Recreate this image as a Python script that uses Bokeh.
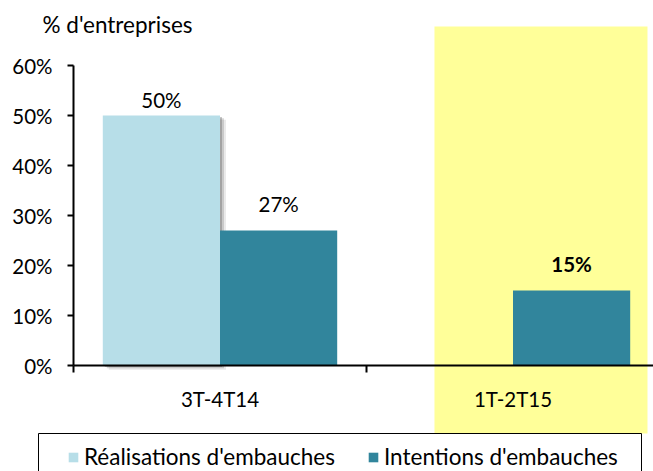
import numpy as np
from bokeh.plotting import figure
from bokeh.models import Range1d, FixedTicker, PrintfTickFormatter, Label, Legend, LegendItem, ColumnDataSource
from bokeh.core.properties import value
from bokeh.embed import file_html
from bokeh.resources import INLINE

# ---- data ----
categories = ["3T-4T14", "1T-2T15"]
realisations = [50, np.nan]
intentions = [27, 15]
highlight = "1T-2T15"
y_ticks = [0, 10, 20, 30, 40, 50, 60]
y_title = "% d'entreprises"
series_names = ["Réalisations d'embauches", "Intentions d'embauches"]

# ---- style / geometry ----
FONT = "Lato"
FS_NUM = "20.5px"
FS_TXT = "22.5px"
C_LIGHT = "#B7DEE8"
C_DARK = "#31859C"
C_YELLOW = "#FFFF99"
W, H = 653, 471
PX_CAT = 293.0      # pixels per category
PX_PCT = 5.0        # pixels per percentage point
AX_X = 73           # canvas x of the y axis
AX_Y = 365          # canvas y (from top) of 0 %

x_range = Range1d(-AX_X / PX_CAT, (W - AX_X) / PX_CAT)
y_range = Range1d(-(H - AX_Y) / PX_PCT, AX_Y / PX_PCT)

p = figure(width=W, height=H, x_range=x_range, y_range=y_range,
           output_backend="svg", toolbar_location=None, min_border=0,
           min_border_left=0, min_border_right=0, min_border_top=0, min_border_bottom=0)
p.outline_line_color = None
p.grid.visible = False
p.background_fill_color = "white"
p.border_fill_color = "white"

n = len(categories)
xc = np.arange(n) + 0.5
bw = 0.4
x_real = xc - bw / 2
x_int = xc + bw / 2

# highlighted period band
hi = categories.index(highlight)
p.quad(left=[xc[hi] - 0.268], right=[xc[hi] + 0.459], top=[(AX_Y - 26) / PX_PCT],
       bottom=[-(433 - AX_Y) / PX_PCT], fill_color=C_YELLOW, line_color=None)

# soft shadow behind the first series
real = np.array(realisations, dtype=float)
for d, a in [(2, 0.32), (4, 0.22), (6, 0.12)]:
    p.quad(left=x_real - bw / 2 + d / PX_CAT, right=x_real + bw / 2 + d / PX_CAT,
           top=real - d * 0.7 / PX_PCT, bottom=np.zeros(n) - d * 0.7 / PX_PCT,
           fill_color="#555555", fill_alpha=a, line_color=None)

r_real = p.vbar(x=x_real, top=real, width=bw, fill_color=C_LIGHT, line_color=None)
r_int = p.vbar(x=x_int, top=intentions, width=bw, fill_color=C_DARK, line_color=None)

# value labels
lab_x, lab_y, lab_t, lab_s, lab_o = [], [], [], [], []
for i, c in enumerate(categories):
    for xs, v, off in [(x_real[i], realisations[i], -4), (x_int[i], intentions[i], -15)]:
        if v is None or (isinstance(v, float) and np.isnan(v)):
            continue
        lab_x.append(xs); lab_y.append(v); lab_t.append(f"{v:.0f}%")
        lab_s.append("bold" if c == highlight else "normal")
        lab_o.append(off)
src = ColumnDataSource(dict(x=lab_x, y=lab_y, t=lab_t, s=lab_s, o=lab_o))
p.text(x="x", y="y", text="t", source=src, text_align="center", text_baseline="bottom",
       y_offset="o", text_font=value(FONT), text_font_size=FS_NUM, text_color="black",
       text_font_style="s")

# legend frame
p.quad(left=[(38 - AX_X) / PX_CAT], right=[(641 - AX_X) / PX_CAT],
       top=[-(433 - AX_Y) / PX_PCT], bottom=[-(480 - AX_Y) / PX_PCT],
       fill_color="white", line_color="black", line_width=1)

# axes
xa = p.xaxis[0]
xa.fixed_location = 0
xa.bounds = (0, n)
xa.ticker = FixedTicker(ticks=list(xc), minor_ticks=list(range(n + 1)))
xa.major_label_overrides = {float(x): c for x, c in zip(xc, categories)}
xa.major_tick_line_color = None
xa.major_tick_out = 0
xa.major_tick_in = 0
xa.minor_tick_out = 7
xa.minor_tick_in = 0
xa.minor_tick_line_color = "black"
xa.minor_tick_line_width = 2
xa.axis_line_color = "black"
xa.axis_line_width = 2
xa.major_label_standoff = 14
xa.major_label_text_font = FONT
xa.major_label_text_font_size = FS_NUM
xa.major_label_text_color = "black"

ya = p.yaxis[0]
ya.fixed_location = 0
ya.bounds = (y_ticks[0], y_ticks[-1])
ya.ticker = FixedTicker(ticks=y_ticks, minor_ticks=[])
ya.formatter = PrintfTickFormatter(format="%d%%")
ya.major_tick_out = 6
ya.major_tick_in = 0
ya.major_tick_line_width = 2
ya.major_tick_line_color = "black"
ya.minor_tick_line_color = None
ya.axis_line_color = "black"
ya.axis_line_width = 2
ya.major_label_standoff = 15
ya.major_label_text_font = FONT
ya.major_label_text_font_size = FS_NUM
ya.major_label_text_color = "black"

p.add_layout(Label(x=(42 - AX_X) / PX_CAT, y=(AX_Y - 24) / PX_PCT, text=y_title,
                   text_font=FONT, text_font_size=FS_TXT, text_color="black",
                   text_baseline="middle", text_align="left"))

legend = Legend(items=[LegendItem(label=series_names[0], renderers=[r_real]),
                       LegendItem(label=series_names[1], renderers=[r_int])],
                orientation="horizontal", location=(67, 1), padding=4, margin=0,
                spacing=32, label_standoff=5, glyph_width=12, glyph_height=12,
                border_line_color=None, background_fill_alpha=0,
                label_text_font=FONT, label_text_font_size=FS_TXT, label_text_color="black")
p.add_layout(legend)

open("out.html", "w").write(file_html(p, INLINE))
